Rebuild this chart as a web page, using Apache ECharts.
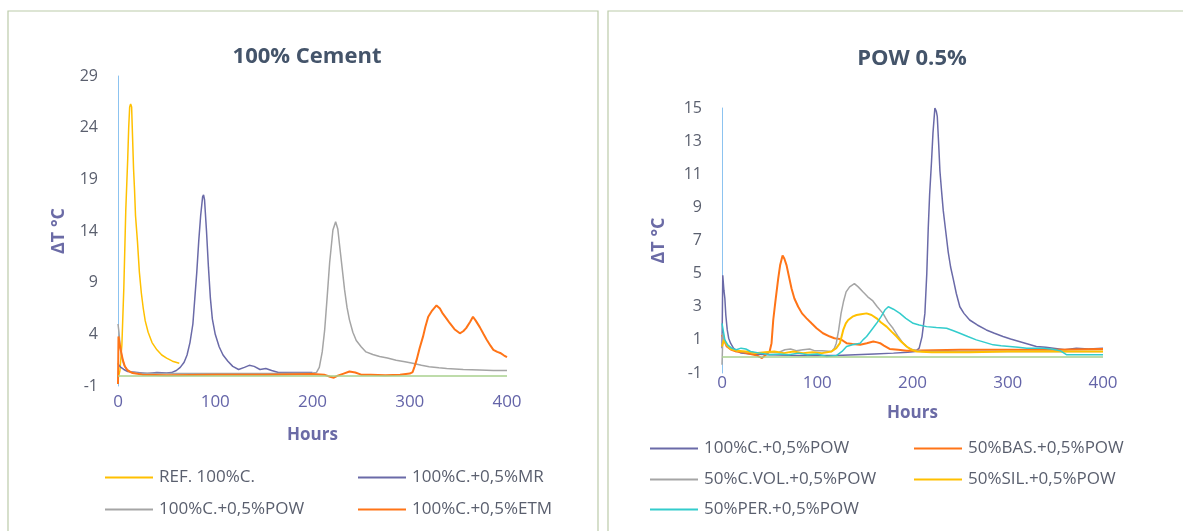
<!DOCTYPE html>
<html>
<head>
<meta charset="utf-8">
<script src="https://cdn.jsdelivr.net/npm/echarts@6/dist/echarts.min.js"></script>
<style>
  html, body { margin: 0; padding: 0; background: #fff; }
  #chart { width: 1183px; height: 531px; }
</style>
</head>
<body>
<div id="chart"></div>
<script>
// left panel: 100% Cement  [hours, ΔT]
const refC = [[0,-0.3],[2,0.5],[4,3],[6,8.5],[8,16],[10,21],[11,24],[12,26],[13,26.3],[14,26],[15,23],[16,20],[17,18],[18,15.5],[20,13],[22,10],[24,8],[26,6.5],[28,5.3],[31,4.2],[35,3.2],[40,2.5],[45,2.0],[50,1.7],[56,1.4],[63,1.2]]
const mrC = [[0,1.2],[1,1.0],[3,0.8],[6,0.6],[10,0.4],[20,0.3],[30,0.2],[40,0.3],[50,0.25],[55,0.3],[60,0.5],[64,0.8],[68,1.3],[71,2.0],[74,3.2],[77,5],[79,7.5],[81,10],[83,13],[85,15.5],[87,17.3],[88,17.5],[89,17],[91,14],[93,10.5],[95,7.5],[97,5.5],[100,4],[104,2.8],[108,2.0],[113,1.4],[118,0.9],[124,0.6],[130,0.8],[135,1.0],[140,0.9],[146,0.6],[152,0.7],[158,0.5],[165,0.3],[180,0.3],[200,0.3]]
const powC = [[0,5],[1,4.2],[2,3],[4,1.8],[6,1.1],[9,0.6],[13,0.35],[20,0.25],[40,0.2],[80,0.2],[120,0.2],[160,0.2],[200,0.25],[204,0.3],[207,0.8],[210,2.3],[212.5,4.4],[215,7.5],[217.6,10.9],[221,14.1],[223.8,14.9],[226,14.2],[228,12.5],[230.5,10.4],[233,8.3],[235.5,6.6],[238,5.4],[241.5,4.2],[245,3.4],[250,2.8],[255,2.3],[262,2.05],[269,1.85],[277,1.7],[286,1.5],[295,1.35],[303,1.2],[312,1.0],[320,0.87],[330,0.77],[338,0.7],[355,0.6],[372,0.55],[386,0.5],[400,0.5]]
const etmC = [[0,-0.8],[0.5,3.8],[1.5,3.2],[3,2.4],[5,1.5],[7,0.9],[10,0.5],[15,0.25],[25,0.1],[50,0.05],[100,0.1],[150,0.1],[200,0.15],[212,0.1],[218,-0.1],[222,-0.2],[226,0],[232,0.2],[238,0.4],[244,0.3],[250,0.1],[260,0.1],[275,0.05],[290,0.1],[300,0.2],[303,0.35],[305,0.9],[307,1.5],[310,2.6],[313.7,3.8],[316,4.7],[319,5.7],[323,6.3],[327.5,6.8],[331,6.5],[334,6.0],[338,5.5],[341,5.1],[346,4.5],[351.5,4.1],[355,4.3],[358,4.6],[362,5.2],[365,5.7],[368,5.3],[372,4.7],[376,4.0],[379,3.5],[383,2.9],[386,2.5],[390,2.3],[393,2.2],[397,1.95],[400,1.8]]

// right panel: POW 0.5%
const pow100 = [[0,0.5],[0.8,4.9],[2,4],[3,3.5],[4,2.5],[5.5,1.6],[7,1.1],[9,0.8],[12,0.5],[15,0.35],[20,0.2],[30,0.15],[50,0.1],[80,0.05],[100,0.05],[120,0.05],[140,0.1],[160,0.15],[180,0.2],[195,0.25],[203,0.3],[207,0.5],[210,1.2],[213,2.6],[215,5],[216.5,7.7],[218,9.8],[220,11.8],[221.5,13.5],[223.5,15],[225,14.8],[226,14.5],[227.5,12.8],[228.8,11.2],[230.5,10],[232.3,8.8],[235,7.5],[237.5,6.3],[240,5.4],[242.7,4.7],[246,3.8],[249.7,3.0],[254,2.6],[260,2.2],[268,1.9],[277.5,1.6],[286,1.4],[295,1.2],[303,1.05],[312,0.9],[321,0.75],[330,0.6],[340,0.55],[348,0.5],[360,0.4],[372,0.5],[385,0.45],[400,0.5]]
const basPow = [[0,1.3],[2,1.0],[5,0.6],[10,0.4],[15,0.3],[22,0.25],[30,0.15],[37,0.05],[42,-0.1],[46,0.1],[50,0.3],[52,0.8],[53.8,2.2],[56,3.3],[59,4.7],[61,5.5],[63.6,6.1],[65.5,5.9],[67.8,5.5],[70,4.9],[73,4.1],[76,3.5],[80,3.0],[84,2.6],[88.8,2.3],[94,2.0],[99.3,1.7],[106,1.4],[113.3,1.2],[118,1.1],[123.8,1.05],[127,0.95],[130.8,0.8],[137,0.75],[145,0.7],[152,0.8],[158.8,0.9],[163,0.85],[166,0.8],[170,0.65],[176,0.45],[185,0.4],[194,0.35],[250,0.4],[300,0.4],[350,0.4],[400,0.45]]
const volPow = [[0,-0.5],[1,1.4],[3,0.9],[6,0.6],[10,0.45],[20,0.3],[40,0.2],[60,0.25],[66,0.4],[72,0.45],[78,0.35],[85,0.4],[92,0.45],[97,0.35],[105,0.35],[115,0.3],[118,0.5],[120,0.8],[122.5,1.6],[125,2.6],[127.5,3.3],[130.3,3.9],[134,4.2],[139,4.4],[143,4.2],[147.9,3.9],[153,3.6],[158.4,3.35],[163,3.0],[169,2.6],[174,2.1],[179.5,1.7],[185,1.2],[190,0.8],[195,0.55],[200.7,0.4],[210,0.3],[250,0.3],[300,0.3],[350,0.3],[400,0.3]]
const silPow = [[0,0.6],[2,1.0],[5,0.7],[9,0.45],[15,0.35],[25,0.3],[35,0.2],[45,0.25],[55,0.3],[65,0.2],[75,0.3],[85,0.2],[95,0.25],[105,0.2],[115,0.3],[120,0.5],[123.8,0.8],[127.3,1.6],[130,2.0],[132.5,2.2],[137,2.4],[141.3,2.5],[146,2.55],[151.8,2.6],[157,2.5],[162.3,2.3],[167,2.05],[172.8,1.8],[178,1.5],[183.3,1.2],[188,0.9],[193.8,0.6],[199,0.4],[204.3,0.3],[220,0.25],[260,0.25],[300,0.3],[340,0.3],[380,0.3],[400,0.3]]
const perPow = [[0,2.0],[1.5,1.5],[3,1.0],[6,0.7],[10,0.5],[15,0.4],[20,0.5],[25,0.45],[30,0.3],[40,0.2],[50,0.1],[60,0.15],[70,0.1],[80,0.2],[90,0.1],[100,0.15],[110,0.0],[120,0.05],[126,0.3],[130.8,0.6],[137,0.7],[145,0.8],[148,1.0],[151.8,1.2],[157,1.6],[162.3,2.0],[167,2.4],[171,2.8],[174.6,3.0],[180,2.85],[186.8,2.6],[193,2.3],[200.7,2.0],[207,1.9],[214.8,1.8],[225,1.75],[235.8,1.7],[243,1.55],[249.7,1.4],[258,1.2],[267,1.0],[276,0.85],[284.7,0.7],[293,0.65],[302,0.6],[311,0.55],[320,0.5],[330,0.5],[337.6,0.5],[346,0.45],[355,0.35],[362,0.1],[380,0.1],[400,0.1]]

const xTicks = [0, 100, 200, 300, 400]
const yTicksLeft = [-1, 4, 9, 14, 19, 24, 29]
const yTicksRight = [-1, 1, 3, 5, 7, 9, 11, 13, 15]

const titles = ['100% Cement', 'POW 0.5%']
const namesLeft = ['REF. 100%C.', '100%C.+0,5%MR', '100%C.+0,5%POW', '100%C.+0,5%ETM']
const namesRight = ['100%C.+0,5%POW', '50%BAS.+0,5%POW', '50%C.VOL.+0,5%POW', '50%SIL.+0,5%POW', '50%PER.+0,5%POW']

const YELLOW = '#ffc000', INDIGO = '#6a6aa8', GRAY = '#a5a5a5', ORANGE = '#ff7417', CYAN = '#33cccc'
const FONT = 'Open Sans'

const chart = echarts.init(document.getElementById('chart'))

function xAx(gridIndex, margin, nameGap) {
    return {
        type: 'value', gridIndex, min: 0, max: 400,
        name: 'Hours', nameLocation: 'middle', nameGap,
        nameTextStyle: { color: '#6b6ba6', fontWeight: 'bold', fontSize: 17, fontFamily: FONT },
        axisLine: { show: false },
        axisTick: { show: false },
        splitLine: { show: false },
        axisLabel: { customValues: xTicks, color: '#6464a8', fontSize: 17, fontFamily: FONT, margin }
    }
}
function yAx(gridIndex, min, max, ticks, nameGap) {
    return {
        type: 'value', gridIndex, min, max,
        name: 'ΔT °C', nameLocation: 'middle', nameGap, nameRotate: 90,
        nameTextStyle: { color: '#6b6ba6', fontWeight: 'bold', fontSize: 18, fontFamily: FONT },
        axisLine: { show: true, onZero: false, lineStyle: { color: '#8cc3f0', width: 1 } },
        axisTick: { show: false },
        splitLine: { show: false },
        axisLabel: { customValues: ticks, color: '#5a5f6e', fontSize: 16, fontFamily: FONT, margin: 20 }
    }
}
const zeroLine = {
    silent: true, symbol: 'none', label: { show: false },
    lineStyle: { color: '#a9d18e', width: 1.5, type: 'solid' },
    data: [{ yAxis: 0 }]
}
function line(name, data, color, axis, width, extra) {
    return Object.assign({
        name, type: 'line', data, xAxisIndex: axis, yAxisIndex: axis,
        showSymbol: false, symbol: 'none',
        lineStyle: { color, width: width || 1.5 }, itemStyle: { color }
    }, extra || {})
}
function leg(name, color, left, top) {
    return {
        data: [{ name, itemStyle: { color, borderWidth: 0 } }], left, top, padding: 0, itemGap: 0,
        itemWidth: 48, itemHeight: 2, icon: 'rect',
        textStyle: { color: '#5a5f6e', fontSize: 17, fontFamily: FONT, padding: [0, 0, 0, 1] },
        selectedMode: false
    }
}

chart.setOption({
    animation: false,
    title: [
        { text: titles[0], left: 302, top: 41, textAlign: 'center',
          textStyle: { color: '#44546a', fontSize: 22, fontWeight: 'bold', fontFamily: FONT } },
        { text: titles[1], left: 907, top: 43, textAlign: 'center',
          textStyle: { color: '#44546a', fontSize: 22, fontWeight: 'bold', fontFamily: FONT } }
    ],
    graphic: [
        { type: 'rect', shape: { x: 8, y: 11, width: 590, height: 540 }, style: { fill: 'none', stroke: '#bccbaa', lineWidth: 1.2 } },
        { type: 'rect', shape: { x: 608, y: 11, width: 590, height: 540 }, style: { fill: 'none', stroke: '#bccbaa', lineWidth: 1.2 } }
    ],
    grid: [
        { left: 118, top: 76, width: 389, height: 310 },
        { left: 722, top: 108, width: 381, height: 265 }
    ],
    xAxis: [xAx(0, 8, 41), xAx(1, 2, 32)],
    yAxis: [yAx(0, -1, 29, yTicksLeft, 50), yAx(1, -1, 15, yTicksRight, 54)],
    legend: [
        leg(namesLeft[0], YELLOW, 105, 469), leg(namesLeft[1], INDIGO, 358, 469),
        leg(namesLeft[2], GRAY, 105, 501), leg(namesLeft[3], ORANGE, 358, 501),
        leg(namesRight[0], INDIGO, 650, 440), leg(namesRight[1], ORANGE, 914, 440),
        leg(namesRight[2], GRAY, 650, 471), leg(namesRight[3], YELLOW, 914, 471),
        leg(namesRight[4], CYAN, 650, 501)
    ],
    series: [
        line(namesLeft[0], refC, YELLOW, 0, 1.5, { markLine: zeroLine }),
        line(namesLeft[1], mrC, INDIGO, 0, 1.5),
        line(namesLeft[2], powC, GRAY, 0, 1.5),
        line(namesLeft[3], etmC, ORANGE, 0, 2),
        line(namesRight[0], pow100, INDIGO, 1, 1.5, { markLine: zeroLine }),
        line(namesRight[1], basPow, ORANGE, 1, 2),
        line(namesRight[2], volPow, GRAY, 1, 1.5),
        line(namesRight[3], silPow, YELLOW, 1, 2),
        line(namesRight[4], perPow, CYAN, 1, 1.5)
    ]
})
</script>
</body>
</html>
